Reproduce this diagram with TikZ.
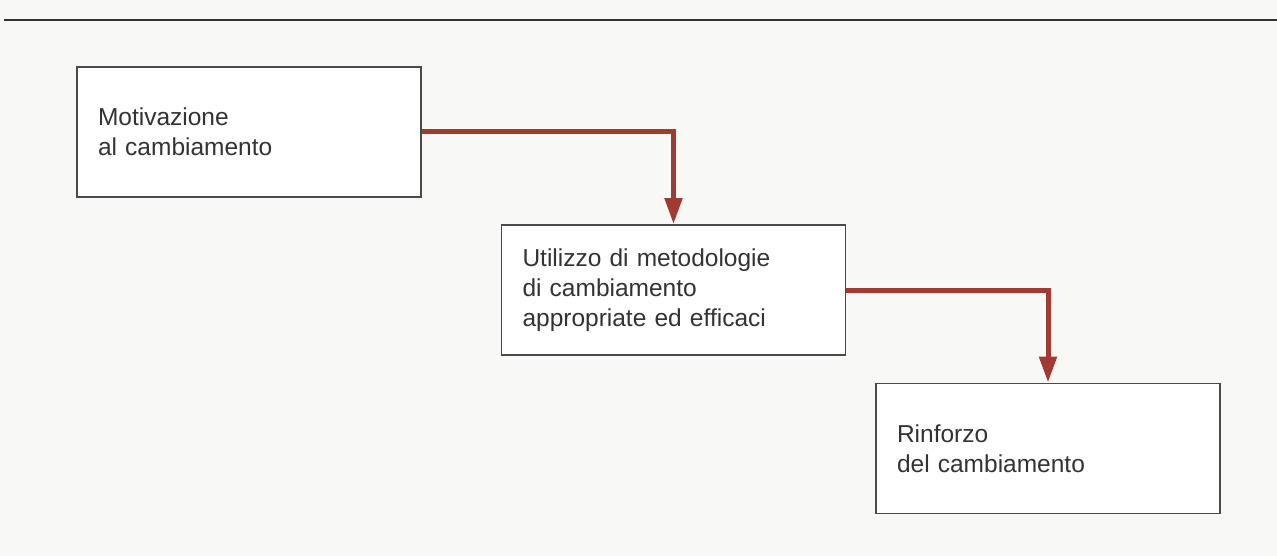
\documentclass[tikz,border=0pt]{standalone}
\usepackage{fontspec}
\setmainfont{Liberation Sans}
\usetikzlibrary{arrows.meta}
\definecolor{paper}{HTML}{F8F8F6}
\definecolor{ink}{HTML}{333333}
\definecolor{frame}{HTML}{4A4A4A}
\definecolor{flow}{HTML}{A23A32}
\begin{document}
\begin{tikzpicture}[x=1pt,y=-1pt,
  stage/.style={draw=frame, line width=1.8pt, fill=white, text=ink,
    minimum height=130pt, inner xsep=21pt, inner ysep=0pt,
    text width=302pt, align=left,
    font=\fontsize{24.5pt}{30pt}\selectfont},
  flowline/.style={draw=flow, line width=5pt,
    -{Triangle[width=17pt,length=26pt]}}]
  % page background and the rule across the top
  \fill[paper] (0,0) rectangle (1277,556);
  \useasboundingbox (0,0) rectangle (1277,556);
  \coordinate (ruleL) at (4,20);
  \coordinate (ruleR) at (1277,20);
  \draw[ink, line width=2.6pt] (ruleL) -- (ruleR);

  % the three stages
  \node[stage] (motiv) at (249,132) {Motivazione\\al cambiamento};
  \node[stage] (metod) at (673.5,290) {Utilizzo di metodologie\\di cambiamento\\appropriate ed efficaci};
  \node[stage] (rinf) at (1048,448.5) {Rinforzo\\del cambiamento};

  % elbow connectors between stages
  \draw[flowline] (motiv.east) -| (metod.north);
  \draw[flowline] (metod.east) -| (rinf.north);
\end{tikzpicture}
\end{document}
